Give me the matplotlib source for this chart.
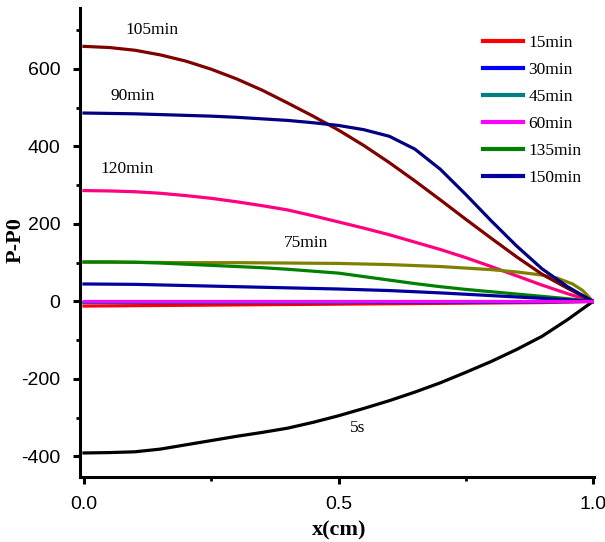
import numpy as np
import matplotlib
matplotlib.use("Agg")
import matplotlib.pyplot as plt
from matplotlib.ticker import MultipleLocator

plt.rcParams["axes.unicode_minus"] = False

# position along the sample (cm)
x = [0.0, 0.05, 0.1, 0.15, 0.2, 0.25, 0.3, 0.35, 0.4, 0.45, 0.5,
     0.55, 0.6, 0.65, 0.7, 0.75, 0.8, 0.85, 0.9, 0.95, 1.0]
x_c = [0.0, 0.1, 0.2, 0.3, 0.4, 0.5, 0.6, 0.7, 0.8, 0.9, 1.0]

# legend series (P-P0)
p_15min = [-12, -11, -10, -9, -8, -7, -6, -5, -4, -3, 0]
p_30min = [-3, -3, -3, -3, -3, -3, -2, -2, -2, -1, 0]
p_45min = [-2, -2, -2, -2, -2, -2, -1, -1, -1, -1, 0]
p_60min = [0, 0, 0, 0, 0, 0, 0, 0, 0, 0, 0]
p_135min = [102, 102, 101, 99, 96, 93, 90, 87, 83, 78, 73,
            64, 55, 46, 38, 31, 25, 19, 13, 7, 0]
p_150min = [45, 44, 41, 38, 35, 32, 28, 22, 15, 8, 0]

# labelled curves (no legend entry)
p_105min = [658, 655, 648, 636, 620, 599, 574, 545, 512, 478, 442,
            402, 358, 311, 262, 212, 163, 115, 70, 34, 0]
p_90min = [486, 485, 484, 482, 480, 478, 475, 471, 467, 461, 454,
           443, 426, 393, 341, 276, 208, 143, 84, 38, 0]
p_120min = [286, 285, 283, 279, 273, 266, 257, 247, 236, 221, 205,
            189, 172, 153, 134, 113, 90, 66, 42, 20, 0]
x_75 = [0.0, 0.1, 0.2, 0.3, 0.4, 0.5, 0.6, 0.7, 0.75, 0.8, 0.85,
        0.9, 0.93, 0.96, 0.98, 1.0]
p_75min = [101, 101, 100, 100, 99, 98, 95, 90, 86, 82, 76,
           68, 60, 45, 28, 0]
p_5s = [-391, -390, -388, -381, -370, -359, -348, -338, -327, -312, -295,
        -276, -256, -234, -210, -183, -155, -124, -90, -47, 0]

serif = "Liberation Serif"
sans = "Liberation Sans"

fig = plt.figure(figsize=(6.05, 5.42), dpi=100)
ax = fig.add_axes([80 / 605, 65 / 542, 514 / 605, 469 / 542])

lw = 2.3
ax.plot(x, p_5s, color="black", lw=lw)
ax.plot(x, p_120min, color="#ff0080", lw=lw)
ax.plot(x_75, p_75min, color="#808000", lw=lw)
ax.plot(x, p_135min, color="#008000", lw=lw, label="135min")
ax.plot(x_c, p_150min, color="#0000a0", lw=lw, label="150min")
ax.plot(x, p_105min, color="#800000", lw=lw)
ax.plot(x, p_90min, color="#000080", lw=lw)
ax.plot(x_c, p_15min, color="#ff0000", lw=lw, label="15min")
ax.plot(x_c, p_30min, color="#0000ff", lw=lw, label="30min")
ax.plot(x_c, p_45min, color="#008080", lw=lw, label="45min")
ax.plot(x_c, p_60min, color="#ff00ff", lw=lw, label="60min")

ax.set_xlim(-0.0079, 1.002)
ax.set_ylim(-453, 757)

ax.spines["top"].set_visible(False)
ax.spines["right"].set_visible(False)
for s in ["left", "bottom"]:
    ax.spines[s].set_linewidth(2.2)

ax.xaxis.set_major_locator(MultipleLocator(0.5))
ax.xaxis.set_minor_locator(MultipleLocator(0.25))
ax.yaxis.set_major_locator(MultipleLocator(200))
ax.yaxis.set_minor_locator(MultipleLocator(100))
ax.xaxis.set_major_formatter(matplotlib.ticker.FormatStrFormatter("%.1f"))
ax.tick_params(which="major", direction="out", length=5, width=2.2, pad=9,
               labelsize=14)
ax.tick_params(which="minor", direction="out", length=3, width=2)
for lab in ax.get_xticklabels() + ax.get_yticklabels():
    lab.set_fontfamily(sans)

ax.set_ylabel("P-P0", fontfamily=serif, fontweight="bold", fontsize=16)
ax.yaxis.set_label_coords(-0.105, 0.505)
ax.set_xlabel("x(cm)", fontfamily=serif, fontweight="bold", fontsize=16)
ax.xaxis.set_label_coords(0.504, -0.093)

# curve labels
txt = dict(fontfamily=serif, fontsize=12.5, ha="center", va="center")
ax.text(0.134, 700, "105min", **txt)
ax.text(0.096, 530, "90min", **txt)
ax.text(0.084, 342, "120min", **txt)
ax.text(0.436, 151, "75min", **txt)
ax.text(0.538, -326, "5s", **txt)

# legend in the order shown
h, l = ax.get_legend_handles_labels()
order = ["15min", "30min", "45min", "60min", "135min", "150min"]
hs = [h[l.index(o)] for o in order]
leg = fig.legend(hs, order, loc="upper left", bbox_to_anchor=(483 / 605, 1 - 35 / 542),
                 frameon=False, prop={"family": serif, "size": 12.5},
                 handlelength=2.3, handletextpad=0.3, labelspacing=0.62,
                 borderpad=0, borderaxespad=0)
for line in leg.get_lines():
    line.set_linewidth(3)

fig.savefig("out.png", dpi=100)
